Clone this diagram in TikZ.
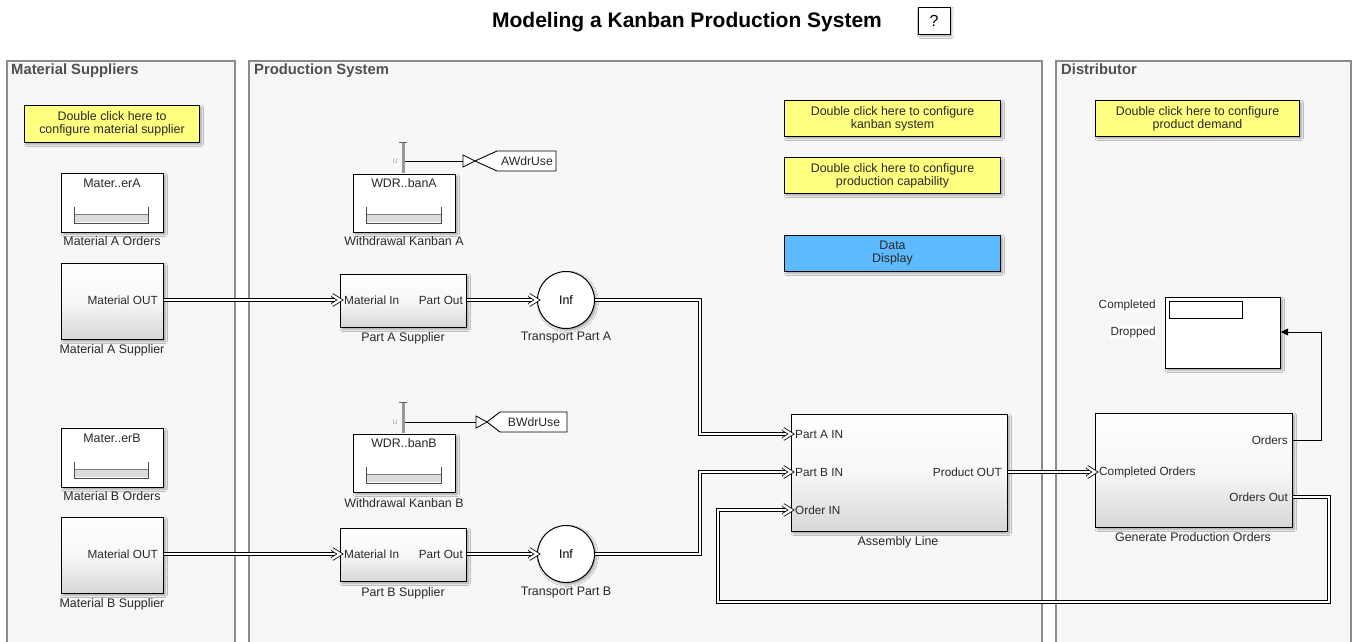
\documentclass[tikz,border=0pt]{standalone}
\usepackage{fontspec}
\setmainfont{Liberation Sans}
\usetikzlibrary{arrows.meta,shadows.blur,calc}
\definecolor{note}{RGB}{255,255,128}
\definecolor{dispblue}{RGB}{94,186,255}
\definecolor{areafill}{RGB}{247,247,247}
\definecolor{areaedge}{RGB}{140,140,140}
\definecolor{hdr}{RGB}{80,80,80}
\definecolor{txt}{RGB}{40,40,40}
\tikzset{
  area/.style={draw=areaedge, fill=areafill, line width=1.2pt},
  hdrtext/.style={anchor=north west, font=\fontsize{14.8}{17}\selectfont\bfseries, text=hdr, inner sep=0pt},
  shad/.style={blur shadow={shadow xshift=1.8pt, shadow yshift=-1.8pt, shadow blur steps=4, shadow opacity=35}},
  notebox/.style={draw=black, line width=1pt, fill=note, anchor=north west, align=center,
    font=\fontsize{12.4}{13}\selectfont, text=txt, inner sep=0pt, shad},
  sblock/.style={draw=black, line width=1pt, anchor=north west, inner sep=0pt,
    top color=white, bottom color=black!16, middle color=black!3, shad},
  wblock/.style={draw=black, line width=1pt, anchor=north west, inner sep=0pt, fill=white, shad},
  lbl/.style={font=\fontsize{12.4}{14}\selectfont, text=txt, inner sep=0pt},
  port/.style={font=\fontsize{11.8}{13}\selectfont, text=txt, inner sep=0pt},
  conn/.style={draw=black, double=white, double distance=2.4pt, line width=0.8pt, line join=miter},
  sig/.style={draw=black, line width=0.8pt},
  tagbox/.style={draw=black, line width=0.9pt, fill=white},
  uline/.style={draw=black!40, line width=3pt},
}
\newcommand\mychev[1]{\draw[conn] ($(#1)+(-8,-5)$) -- (#1) -- ($(#1)+(-8,5)$);}
\newcommand\mytray[3]{%
  \fill[black!14] (#1,#3+7) rectangle (#2,#3+15);
  \draw[black!50, line width=0.8pt] (#1,#3+7) -- (#2,#3+7);
  \draw[black!70, line width=0.9pt] (#1,#3) -- (#1,#3+16) -- (#2,#3+16) -- (#2,#3);}
\begin{document}
\begin{tikzpicture}[x=1pt,y=-1pt]
\useasboundingbox (0,0) rectangle (1352,642);
\fill[white] (0,0) rectangle (1352,642);

% title
\node[font=\fontsize{21}{24}\selectfont\bfseries] (title) at (687,22) {Modeling a Kanban Production System};
\node[draw, line width=1pt, fill=white, minimum width=32pt, minimum height=27pt, inner sep=0pt,
  font=\fontsize{16}{18}\selectfont, shad] (help) at (934,21) {?};

% areas
\path[area] (7,61) rectangle (235,660);
\path[area] (249,61) rectangle (1042,660);
\path[area] (1056,61) rectangle (1351,660);
\node[hdrtext] (hM) at (11,64) {Material Suppliers};
\node[hdrtext] (hP) at (254,64) {Production System};
\node[hdrtext] (hD) at (1061,64) {Distributor};

% notes
\node[notebox, minimum width=175pt, minimum height=37pt] (n1) at (24,105) {Double click here to\\configure material supplier};
\node[notebox, minimum width=216pt, minimum height=36pt] (n2) at (784,100) {Double click here to configure\\kanban system};
\node[notebox, minimum width=216pt, minimum height=36pt] (n3) at (784,157) {Double click here to configure\\production capability};
\node[notebox, fill=dispblue, minimum width=216pt, minimum height=36pt] (n4) at (784,235) {Data\\Display};
\node[notebox, minimum width=204pt, minimum height=36pt] (n5) at (1095,100) {Double click here to configure\\product demand};

% Material suppliers
\node[wblock, minimum width=102pt, minimum height=59pt] (mao) at (61,173) {};
\node[lbl] at (112,183) {Mater..erA};
\mytray{74}{148}{207}
\node[lbl] (lmao) at (112,241) {Material A Orders};

\node[sblock, minimum width=102pt, minimum height=76pt] (mas) at (61,263) {};
\node[port, anchor=east] at (158,300) {Material OUT};
\node[lbl] (lmas) at (112,350) {Material A Supplier};

\node[wblock, minimum width=102pt, minimum height=59pt] (mbo) at (61,428) {};
\node[lbl] at (112,438) {Mater..erB};
\mytray{74}{148}{462}
\node[lbl] (lmbo) at (112,496) {Material B Orders};

\node[sblock, minimum width=102pt, minimum height=76pt] (mbs) at (61,517) {};
\node[port, anchor=east] at (158,554) {Material OUT};
\node[lbl] (lmbs) at (112,604) {Material B Supplier};

% Withdrawal kanban A
\node[wblock, minimum width=102pt, minimum height=58pt] (wka) at (353,174) {};
\node[lbl] at (404,183) {WDR..banA};
\mytray{366}{441}{207}
\node[lbl] (lwka) at (404,241) {Withdrawal Kanban A};
\draw[uline] (403,142) -- (403,173);
\draw[black!60, line width=1pt] (399,142) -- (407,142);
\node[port, text=black!30, font=\fontsize{9}{10}\selectfont] at (395,161) {u};
\coordinate (ua) at (405,161);
\draw[tagbox] (475,161) -- (497,151) -- (556,151) -- (556,171) -- (497,171) -- cycle;
\node[port, font=\fontsize{12.2}{13}\selectfont] (tagA) at (527,161) {AWdrUse};
\draw[sig] (ua) -- (463,161);
\draw[sig, fill=white] (463,155) -- (475,161) -- (463,167) -- cycle;

% Withdrawal kanban B
\node[wblock, minimum width=102pt, minimum height=58pt] (wkb) at (353,434) {};
\node[lbl] at (404,443) {WDR..banB};
\mytray{366}{441}{467}
\node[lbl] (lwkb) at (404,503) {Withdrawal Kanban B};
\draw[uline] (403,402) -- (403,433);
\draw[black!60, line width=1pt] (399,402) -- (407,402);
\node[port, text=black!30, font=\fontsize{9}{10}\selectfont] at (395,422) {u};
\coordinate (ub) at (405,422);
\draw[tagbox] (487,422) -- (500,412) -- (567,412) -- (567,432) -- (500,432) -- cycle;
\node[port, font=\fontsize{12.2}{13}\selectfont] (tagB) at (534,422) {BWdrUse};
\draw[sig] (ub) -- (476,422);
\draw[sig, fill=white] (476,416) -- (487,422) -- (476,428) -- cycle;

% Part suppliers
\node[sblock, minimum width=126pt, minimum height=53pt] (psa) at (340,274) {};
\node[port, anchor=west] at (344,300) {Material In};
\node[port, anchor=east] at (463,300) {Part Out};
\node[lbl] (lpsa) at (403,338) {Part A Supplier};

\node[sblock, minimum width=126pt, minimum height=53pt] (psb) at (340,528) {};
\node[port, anchor=west] at (344,554) {Material In};
\node[port, anchor=east] at (463,554) {Part Out};
\node[lbl] (lpsb) at (403,593) {Part B Supplier};

% Transports
\node[circle, draw=black, line width=1pt, fill=white, minimum size=57pt, inner sep=0pt, shad,
  font=\fontsize{12.4}{13}\selectfont] (tpa) at (566,300) {Inf};
\node[lbl] (ltpa) at (566,338) {Transport Part A};
\node[circle, draw=black, line width=1pt, fill=white, minimum size=57pt, inner sep=0pt, shad,
  font=\fontsize{12.4}{13}\selectfont] (tpb) at (566,554) {Inf};
\node[lbl] (ltpb) at (566,593) {Transport Part B};

% Assembly line
\node[sblock, minimum width=216pt, minimum height=117pt] (asm) at (791,414) {};
\node[port, anchor=west] at (795,434) {Part A IN};
\node[port, anchor=west] at (795,472) {Part B IN};
\node[port, anchor=west] at (795,510) {Order IN};
\node[port, anchor=east] at (1002,472) {Product OUT};
\node[lbl] (lasm) at (898,542) {Assembly Line};

% Display
\node[wblock, minimum width=115pt, minimum height=71pt] (disp) at (1165,297) {};
\node[draw=black, line width=0.9pt, fill=white, anchor=north west, minimum width=73pt, minimum height=17pt, inner sep=0pt] (dbox) at (1169,301) {};
\node[port, anchor=east, fill=white, inner sep=1pt] (dc) at (1157,305) {Completed};
\node[port, anchor=east, fill=white, inner sep=1pt] (dd) at (1157,332) {Dropped};

% Generate production orders
\node[sblock, minimum width=197pt, minimum height=114pt] (gpo) at (1095,413) {};
\node[port, anchor=west] at (1099,472) {Completed Orders};
\node[port, anchor=east] at (1288,440) {Orders};
\node[port, anchor=east] at (1288,497) {Orders Out};
\node[lbl] (lgpo) at (1193,537) {Generate Production Orders};

% connectors
\coordinate (maOut) at (mas.east |- 0,300);
\coordinate (paIn) at (psa.west |- 0,300);
\coordinate (paOut) at (psa.east |- 0,300);
\coordinate (mbOut) at (mbs.east |- 0,554);
\coordinate (pbIn) at (psb.west |- 0,554);
\coordinate (pbOut) at (psb.east |- 0,554);
\coordinate (aIn) at (asm.west |- 0,434);
\coordinate (bIn) at (asm.west |- 0,472);
\coordinate (oIn) at (asm.west |- 0,510);
\coordinate (pOut) at (asm.east |- 0,472);
\coordinate (cIn) at (gpo.west |- 0,472);
\coordinate (ordOut) at (gpo.east |- 0,440);
\coordinate (ooOut) at (gpo.east |- 0,497);
\coordinate (dIn) at (disp.east |- 0,332);

\draw[conn] (maOut) -- ($(paIn)+(-2,0)$); \mychev{paIn}
\draw[conn] (paOut) -- ($(tpa.west)+(-2,0)$); \mychev{tpa.west}
\draw[conn] (mbOut) -- ($(pbIn)+(-2,0)$); \mychev{pbIn}
\draw[conn] (pbOut) -- ($(tpb.west)+(-2,0)$); \mychev{tpb.west}
\draw[conn] (tpa.east) -| (700,434) -- ($(aIn)+(-2,0)$); \mychev{aIn}
\draw[conn] (tpb.east) -| (700,472) -- ($(bIn)+(-2,0)$); \mychev{bIn}
\draw[conn] (pOut) -- ($(cIn)+(-2,0)$); \mychev{cIn}
\draw[conn] (ooOut) -| (1329,602) -| (718,510) -- ($(oIn)+(-2,0)$); \mychev{oIn}
\draw[sig, -{Triangle[length=7pt,width=7pt]}] (ordOut) -| (1321,332) -- (dIn);
\end{tikzpicture}
\end{document}
